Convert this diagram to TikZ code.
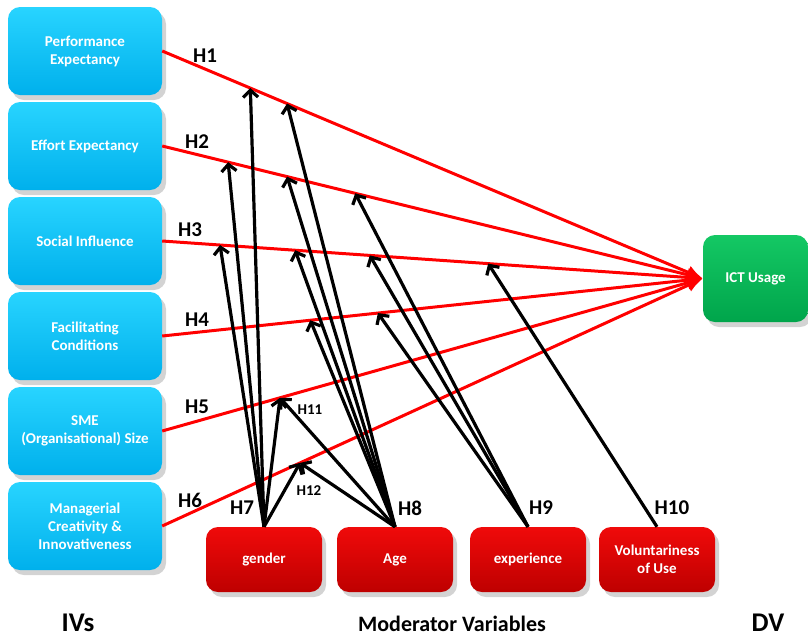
\documentclass[tikz,border=0pt]{standalone}
\usepackage{fontspec}
\setmainfont{Carlito}
\usetikzlibrary{calc,shadows,arrows.meta}
\definecolor{ivtop}{RGB}{40,212,255}
\definecolor{ivbot}{RGB}{0,176,236}
\definecolor{dvtop}{RGB}{20,200,100}
\definecolor{dvbot}{RGB}{0,165,75}
\definecolor{mvtop}{RGB}{240,10,10}
\definecolor{mvbot}{RGB}{190,0,0}
\tikzset{
  box/.style={rounded corners=12pt, text=white, align=center,
    font=\bfseries\fontsize{15}{18}\selectfont,
    drop shadow={shadow xshift=4pt, shadow yshift=-5pt, opacity=.35}},
  ivbox/.style={box, minimum width=154pt, minimum height=88pt, top color=ivtop, bottom color=ivbot},
  dvbox/.style={box, minimum width=105pt, minimum height=87pt, top color=dvtop, bottom color=dvbot},
  mvbox/.style={box, minimum width=116pt, minimum height=65pt, top color=mvtop, bottom color=mvbot},
  hyp/.style={red, line width=3pt, -{Latex[length=16pt,width=14pt]}},
  mod/.style={black, line width=3.2pt, -{Straight Barb[length=7pt,width=15pt]}},
  hlab/.style={font=\bfseries\fontsize{21}{25}\selectfont},
  hsmall/.style={font=\bfseries\fontsize{15}{18}\selectfont},
  title/.style={font=\bfseries\fontsize{22}{26}\selectfont},
  bigtitle/.style={font=\bfseries\fontsize{27}{32}\selectfont}
}
\begin{document}
\begin{tikzpicture}[x=1pt,y=-1pt]
\useasboundingbox (0,0) rectangle (808,638);
% independent variables
\foreach \n/\t [count=\i from 0] in {pe/Performance\\Expectancy, ee/Effort Expectancy, si/Social Influence, fc/Facilitating\\Conditions, sz/SME\\(Organisational) Size, mc/Managerial\\Creativity \&\\Innovativeness}
  \node[ivbox] (\n) at (85,51+95*\i) {\t};
% dependent variable
\node[dvbox] (ict) at (755.5,278.5) {ICT Usage};
% moderators
\foreach \n/\t/\x in {gen/gender/264, age/Age/395, exp/experience/528, vol/Voluntariness\\of Use/657}
  \node[mvbox] (\n) at (\x,559.5) {\t};

% hypotheses H1-H6
\foreach \n in {pe,ee,si,fc,sz,mc}
  \draw[hyp] (\n.east) -- (ict.west);

% points on the paths
\coordinate (pe1) at ($(pe.east)!.163!(ict.west)$);
\coordinate (pe2) at ($(pe.east)!.231!(ict.west)$);
\coordinate (ee1) at ($(ee.east)!.122!(ict.west)$);
\coordinate (ee2) at ($(ee.east)!.231!(ict.west)$);
\coordinate (ee3) at ($(ee.east)!.357!(ict.west)$);
\coordinate (si1) at ($(si.east)!.107!(ict.west)$);
\coordinate (si2) at ($(si.east)!.246!(ict.west)$);
\coordinate (si3) at ($(si.east)!.384!(ict.west)$);
\coordinate (si4) at ($(si.east)!.603!(ict.west)$);
\coordinate (fc1) at ($(fc.east)!.274!(ict.west)$);
\coordinate (fc2) at ($(fc.east)!.399!(ict.west)$);
\coordinate (sz1) at ($(sz.east)!.218!(ict.west)$);
\coordinate (mc1) at ($(mc.east)!.255!(ict.west)$);

% moderating effects
\foreach \s/\e in {gen/pe1, gen/ee1, gen/si1, gen/sz1, gen/mc1,
                   age/pe2, age/ee2, age/si2, age/fc1, age/sz1, age/mc1,
                   exp/ee3, exp/si3, exp/fc2, vol/si4}
  \draw[mod] (\s.north) -- (\e);

\node[hlab] (h1) at (205,56) {H1};
\node[hlab] (h2) at (197,142) {H2};
\node[hlab] (h3) at (190,230) {H3};
\node[hlab] (h4) at (197,320) {H4};
\node[hlab] (h5) at (197,407) {H5};
\node[hlab] (h6) at (190,500) {H6};
\node[hlab] (h7) at (242,508) {H7};
\node[hlab] (h8) at (410,508) {H8};
\node[hlab] (h9) at (541,508) {H9};
\node[hlab] (h10) at (672,508) {H10};
\node[hsmall] (h11) at (310,410) {H11};
\node[hsmall] (h12) at (309,491) {H12};

\node[bigtitle] (ivs) at (78,623) {IVs};
\node[title] (mvs) at (452,624) {Moderator Variables};
\node[bigtitle] (dv) at (768,623) {DV};
\end{tikzpicture}
\end{document}
